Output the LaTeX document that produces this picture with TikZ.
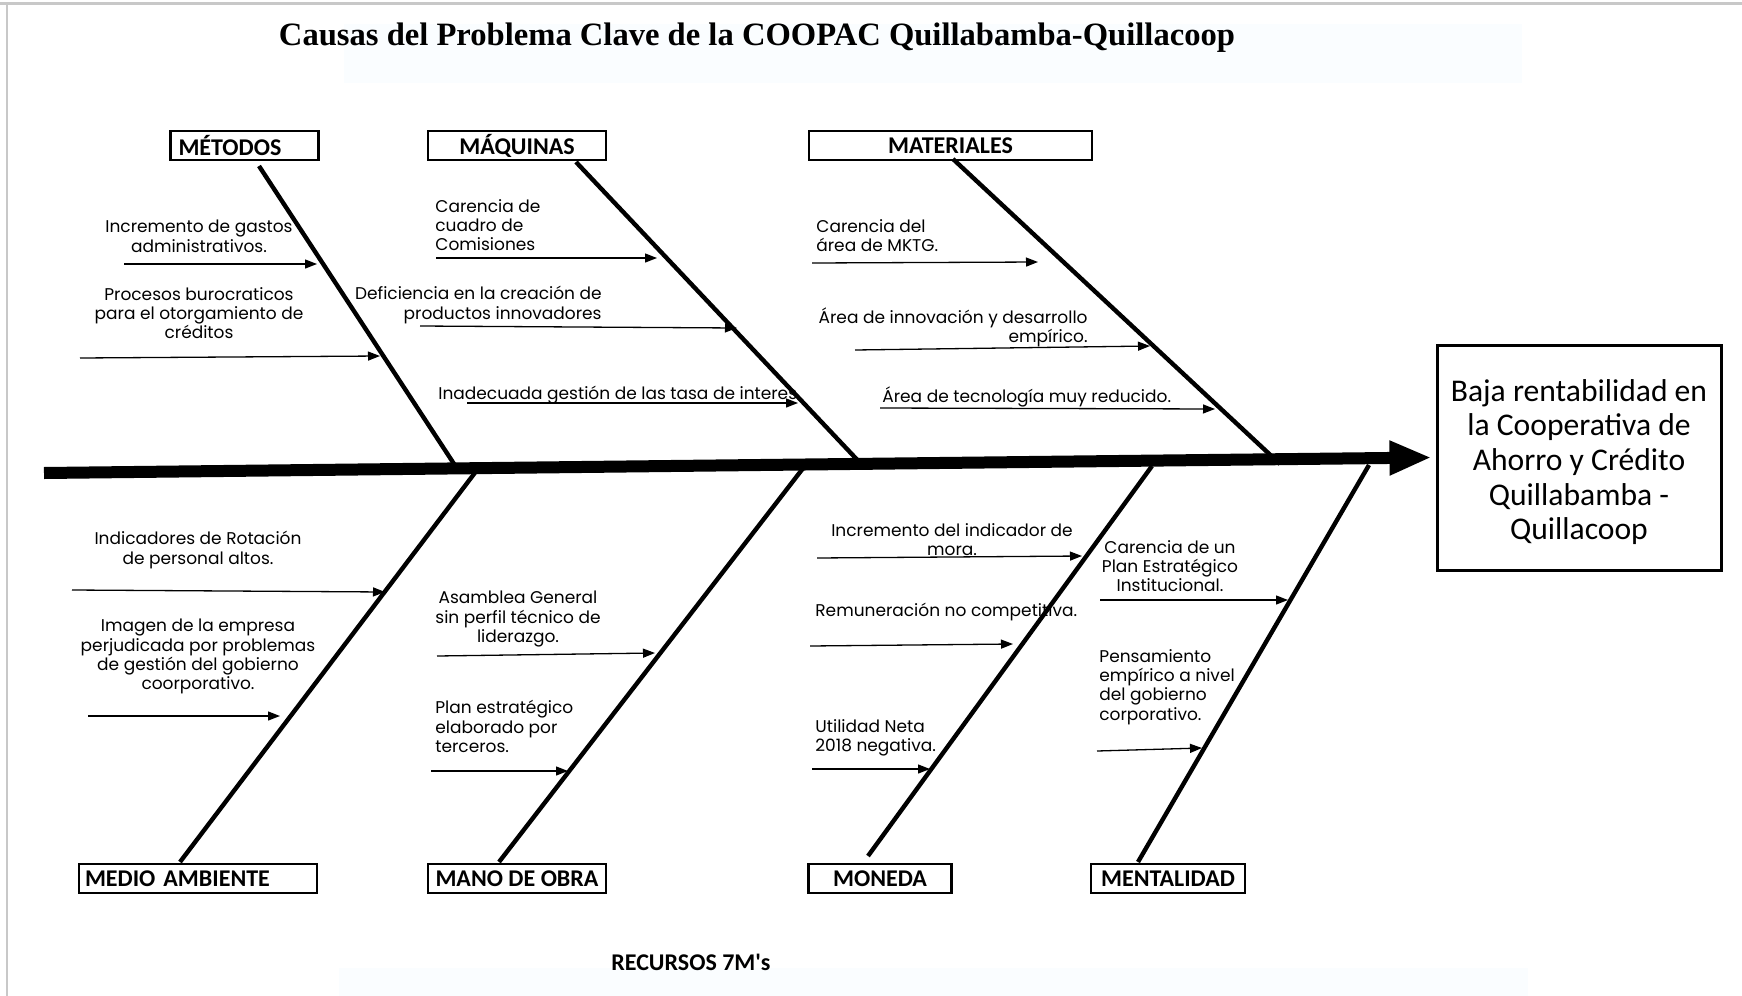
\documentclass[tikz,border=0pt]{standalone}
\usepackage{fontspec}
\setmainfont{Liberation Serif}
\newfontfamily\causefnt{Poppins}
\newfontfamily\calfnt{Carlito}
\usetikzlibrary{arrows.meta}
\definecolor{faintbg}{RGB}{250,253,255}
\definecolor{frame}{RGB}{200,200,200}
\tikzset{
  spine/.style={line width=6pt,-{Triangle[length=21pt,width=16pt]}},
  bone/.style={line width=2.2pt},
  cause/.style={line width=0.65pt,-{Triangle[length=6pt,width=4.5pt]}},
  catbox/.style={draw,line width=1.3pt,minimum height=14.5pt,inner ysep=0pt,font=\calfnt\bfseries\fontsize{12}{13}\selectfont},
  ctext/.style={inner sep=0pt,font=\causefnt\fontsize{8.5}{9.65}\selectfont},
}
\begin{document}
\begin{tikzpicture}[x=0.5pt,y=-0.5pt]
\useasboundingbox (0,0) rectangle (1742,996);
\fill[white] (0,0) rectangle (1742,996);
\fill[faintbg] (344,24) rectangle (1522,83);
\fill[faintbg] (339,968) rectangle (1528,996);
\draw[frame,line width=1.5pt] (0,3) -- (1742,3);
\draw[frame,line width=0.8pt] (7,3) -- (7,996);

% title
\node[font=\bfseries\fontsize{16.3}{19}\selectfont] (title) at (757,38) {Causas del Problema Clave de la COOPAC Quillabamba-Quillacoop};

% effect box
\node[draw,line width=1.5pt,minimum width=142pt,minimum height=112.5pt] (effect) at (1579,457.5) {};
\node[align=center,inner sep=0pt,font=\calfnt\fontsize{15.8}{17.3}\selectfont] (effecttext) at (1579,462)
  {Baja rentabilidad en\\la Cooperativa de\\Ahorro y Crédito\\Quillabamba -\\Quillacoop};

% spine
\coordinate (tail) at (44,473);
\draw[spine] (tail) -- ([xshift=-2pt]effect.west);

% category boxes
\node[catbox,text width=66pt,align=left,inner xsep=4pt] (metodos) at (244.5,145.5) {MÉTODOS};
\node[catbox,minimum width=89pt] (maquinas) at (517,145.5) {MÁQUINAS};
\node[catbox,minimum width=141.5pt] (materiales) at (950.5,145.5) {MATERIALES};
\node[catbox,text width=113pt,align=left,inner xsep=3pt] (medio) at (198,878.5) {MEDIO AMBIENTE};
\node[catbox,minimum width=89pt,inner xsep=2pt] (mano) at (517,878.5) {MANO DE OBRA};
\node[catbox,minimum width=71.5pt] (moneda) at (880,878.5) {MONEDA};
\node[catbox,minimum width=77pt,inner xsep=2pt] (mentalidad) at (1168,878.5) {MENTALIDAD};

% bones
\coordinate (b1s) at (259,166);  \coordinate (b1e) at (458,470);
\coordinate (b2s) at (576,162);  \coordinate (b2e) at (864,467);
\coordinate (b3s) at (953,159);  \coordinate (b3e) at (1280,464);
\coordinate (b4s) at (477,470);  \coordinate (b4e) at (180,862);
\coordinate (b5s) at (804,467);  \coordinate (b5e) at (499,862);
\coordinate (b6s) at (1152,466); \coordinate (b6e) at (868,856);
\coordinate (b7s) at (1369,465); \coordinate (b7e) at (1138,862);
\draw[bone] (b1s) -- (b1e);
\draw[bone] (b2s) -- (b2e);
\draw[bone] (b3s) -- (b3e);
\draw[bone] (b4s) -- (b4e);
\draw[bone] (b5s) -- (b5e);
\draw[bone] (b6s) -- (b6e);
\draw[bone] (b7s) -- (b7e);

% cause texts
\node[ctext,anchor=north,align=center] (c1) at (199,220) {Incremento de gastos\\administrativos.};
\node[ctext,anchor=north,align=center] (c2) at (199,287) {Procesos burocraticos\\para el otorgamiento de\\créditos};
\node[ctext,anchor=north west,align=left] (c3) at (435,199) {Carencia de\\cuadro de\\Comisiones};
\node[ctext,anchor=north east,align=right] (c4) at (602,286) {Deficiencia en la creación de\\productos innovadores};
\node[ctext,anchor=north west,align=left] (c5) at (438,386) {Inadecuada gestión de las tasa de interes};
\node[ctext,anchor=north west,align=left] (c6) at (816,219) {Carencia del\\área de MKTG.};
\node[ctext,anchor=north east,align=right] (c7) at (1088,307) {Área de innovación y desarrollo\\empírico.};
\node[ctext,anchor=north west,align=left] (c8) at (882,386) {Área de tecnología muy reducido.};
\node[ctext,anchor=north,align=center] (c9) at (198,531) {Indicadores de Rotación\\de personal altos.};
\node[ctext,anchor=north,align=center] (c10) at (198,619) {Imagen de la empresa\\perjudicada por problemas\\de gestión del gobierno\\coorporativo.};
\node[ctext,anchor=north,align=center] (c11) at (518,591) {Asamblea General\\sin perfil técnico de\\liderazgo.};
\node[ctext,anchor=north west,align=left] (c12) at (435,700) {Plan estratégico\\elaborado por\\terceros.};
\node[ctext,anchor=north,align=center] (c13) at (952,523) {Incremento del indicador de\\mora.};
\node[ctext,anchor=north west,align=left] (c14) at (815,603) {Remuneración no competitiva.};
\node[ctext,anchor=north west,align=left] (c15) at (815,719) {Utilidad Neta\\2018 negativa.};
\node[ctext,anchor=north,align=center] (c16) at (1170,540) {Carencia de un\\Plan Estratégico\\Institucional.};
\node[ctext,anchor=north west,align=left] (c17) at (1099,649) {Pensamiento\\empírico a nivel\\del gobierno\\corporativo.};

% cause arrows
\coordinate (t1) at (124,264);  \coordinate (h1) at (317,264);
\coordinate (t2) at (80,358);   \coordinate (h2) at (380,356);
\coordinate (t3) at (436,258);  \coordinate (h3) at (657,258);
\coordinate (t4) at (420,326);  \coordinate (h4) at (737,328);
\coordinate (t5) at (467,403);  \coordinate (h5) at (798,403);
\coordinate (t6) at (812,263);  \coordinate (h6) at (1038,262);
\coordinate (t7) at (855,350);  \coordinate (h7) at (1150,346);
\coordinate (t8) at (880,408);  \coordinate (h8) at (1215,409);
\coordinate (t9) at (72,590);   \coordinate (h9) at (385,592);
\coordinate (t10) at (88,716);  \coordinate (h10) at (280,716);
\coordinate (t11) at (437,656); \coordinate (h11) at (655,653);
\coordinate (t12) at (431,771); \coordinate (h12) at (568,771);
\coordinate (t13) at (817,558); \coordinate (h13) at (1082,556);
\coordinate (t14) at (810,646); \coordinate (h14) at (1013,644);
\coordinate (t15) at (812,769); \coordinate (h15) at (930,769);
\coordinate (t16) at (1100,600);\coordinate (h16) at (1288,600);
\coordinate (t17) at (1097,751);\coordinate (h17) at (1202,748);
\foreach \i in {1,...,17} { \draw[cause] (t\i) -- (h\i); }

% footer
\node[anchor=west,inner sep=0pt,font=\calfnt\bfseries\fontsize{12}{13}\selectfont] (footer) at (611,962) {RECURSOS 7M's};
\end{tikzpicture}
\end{document}
